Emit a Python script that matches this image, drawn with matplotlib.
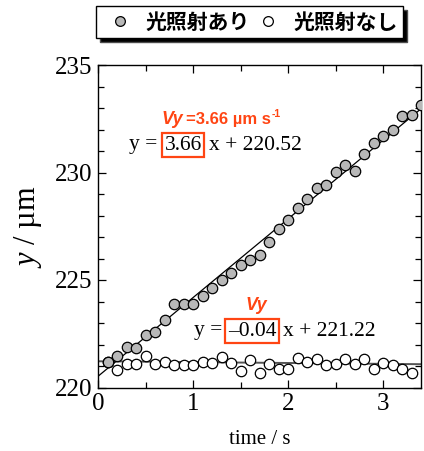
import matplotlib
matplotlib.use("Agg")
import matplotlib.pyplot as plt
from matplotlib.lines import Line2D
from matplotlib.ticker import MultipleLocator

# ---- data ----
t_on = [0.1, 0.2, 0.3, 0.4, 0.5, 0.6, 0.7, 0.8, 0.9, 1.0, 1.1, 1.2, 1.3, 1.4, 1.5, 1.6, 1.7,
        1.8, 1.9, 2.0, 2.1, 2.2, 2.3, 2.4, 2.5, 2.6, 2.7, 2.8, 2.9, 3.0, 3.1, 3.2, 3.3, 3.4]
y_on = [221.19, 221.47, 221.89, 221.84, 222.45, 222.56, 223.14, 223.89, 223.88, 223.89,
        224.25, 224.64, 225.00, 225.34, 225.69, 225.92, 226.16, 226.75, 227.36, 227.77,
        228.34, 228.78, 229.28, 229.41, 230.03, 230.35, 230.09, 230.88, 231.39, 231.70,
        231.97, 232.61, 232.67, 233.16]
t_off = [0.1, 0.2, 0.3, 0.4, 0.5, 0.6, 0.7, 0.8, 0.9, 1.0, 1.1, 1.2, 1.3, 1.4, 1.5, 1.6, 1.7,
         1.8, 1.9, 2.0, 2.1, 2.2, 2.3, 2.4, 2.5, 2.6, 2.7, 2.8, 2.9, 3.0, 3.1, 3.2, 3.3]
y_off = [221.20, 220.80, 221.08, 221.11, 221.47, 221.10, 221.19, 221.05, 221.05, 221.05,
         221.19, 221.16, 221.44, 221.16, 220.77, 221.28, 220.69, 221.08, 220.84, 220.87,
         221.36, 221.19, 221.31, 221.05, 221.08, 221.31, 221.08, 221.31, 220.84, 221.16,
         221.05, 220.87, 220.67]
fit_on = (3.66, 220.52)
fit_off = (-0.04, 221.22)
labels = ["光照射あり", "光照射なし"]
x_range = (0, 3.4)
y_range = (220, 235)

RED = "#ff4513"
W, H = 424, 451

plt.rcParams["font.family"] = ["Liberation Serif", "DejaVu Serif"]
plt.rcParams["mathtext.fontset"] = "custom"
plt.rcParams["mathtext.it"] = "Liberation Serif:italic"
plt.rcParams["mathtext.rm"] = "Liberation Serif"
fig = plt.figure(figsize=(W / 100, H / 100), dpi=100)
ax = fig.add_axes([98 / W, 1 - 387.5 / H, (421 - 98) / W, (387.5 - 65) / H])

xs = list(x_range)
ax.plot(xs, [fit_off[0] * x + fit_off[1] for x in xs], color="#555555", lw=1.4, zorder=2)
ax.plot(xs, [fit_on[0] * x + fit_on[1] for x in xs], color="black", lw=0.9, zorder=3)
ax.plot(t_off, y_off, "o", ms=7.5, mfc="white", mec="black", mew=0.9, zorder=4)
ax.plot(t_on, y_on, "o", ms=7.5, mfc="#b8b8b8", mec="black", mew=0.9, zorder=5)

ax.set_xlim(*x_range)
ax.set_ylim(*y_range)
ax.xaxis.set_major_locator(MultipleLocator(1))
ax.xaxis.set_minor_locator(MultipleLocator(0.5))
ax.yaxis.set_major_locator(MultipleLocator(5))
ax.yaxis.set_minor_locator(MultipleLocator(1))
ax.tick_params(which="both", direction="in", top=True, right=True, width=0.9)
ax.tick_params(which="major", length=6, labelsize=18, pad=4)
ax.tick_params(which="minor", length=4)
for s in ax.spines.values():
    s.set_linewidth(1.0)

ax.set_xlabel("time / s", fontsize=15, labelpad=11)
ax.set_ylabel("$\\mathit{y}$ / µm", fontsize=22, labelpad=8)

def fx(px):
    return px / W

def fy(py):
    return 1 - py / H

tf = fig.transFigure
eq_fs = 15.5
# first equation
fig.text(fx(157), fy(145), "y =", transform=tf, ha="right", va="center", fontsize=eq_fs)
fig.text(fx(183), fy(145), "3.66", transform=tf, ha="center", va="center", fontsize=eq_fs,
         bbox=dict(boxstyle="square,pad=0.12", fc="none", ec=RED, lw=1.6))
fig.text(fx(209), fy(145), "x + 220.52", transform=tf, ha="left", va="center", fontsize=eq_fs)
# second equation
fig.text(fx(222), fy(331), "y =", transform=tf, ha="right", va="center", fontsize=eq_fs)
fig.text(fx(252.3), fy(331), "–0.04", transform=tf, ha="center", va="center", fontsize=eq_fs,
         bbox=dict(boxstyle="square,pad=0.12", fc="none", ec=RED, lw=1.6))
fig.text(fx(283), fy(331), "x + 221.22", transform=tf, ha="left", va="center", fontsize=eq_fs)

# Vy labels
sans = ["Liberation Sans", "DejaVu Sans"]
fig.text(fx(161.5), fy(119), "Vy", transform=tf, ha="left", va="center", fontsize=13,
         family=sans, weight="bold", style="italic", color=RED)
fig.text(fx(186), fy(119.5), "=3.66 µm s", transform=tf, ha="left", va="center", fontsize=12,
         family=sans, weight="bold", color=RED)
fig.text(fx(271.5), fy(114), "-1", transform=tf, ha="left", va="center", fontsize=7.5,
         family=sans, weight="bold", color=RED)
fig.text(fx(256), fy(305), "Vy", transform=tf, ha="center", va="center", fontsize=13,
         family=sans, weight="bold", style="italic", color=RED)

# legend
handles = [
    Line2D([], [], ls="none", marker="o", ms=7, mfc="#b8b8b8", mec="black", mew=0.9),
    Line2D([], [], ls="none", marker="o", ms=7, mfc="white", mec="black", mew=0.9),
]
leg = fig.legend(handles, labels, loc="center", bbox_to_anchor=(fx(249.5), fy(22)), ncol=2,
                 frameon=True, fancybox=False, edgecolor="black", framealpha=1,
                 shadow={"ox": 3, "oy": -3, "facecolor": "black", "alpha": 1},
                 prop={"family": ["Noto Sans CJK JP"], "weight": "bold", "size": 15},
                 handletextpad=0.3, columnspacing=0.0, handlelength=1.8,
                 borderpad=0.25, borderaxespad=0)
leg.get_frame().set_linewidth(1.0)

fig.savefig("out.png", dpi=100)
